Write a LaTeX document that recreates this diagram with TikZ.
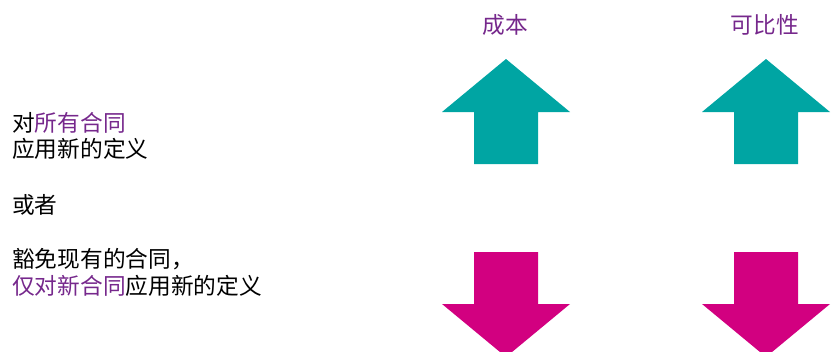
\documentclass[tikz,border=0pt]{standalone}
\usepackage{fontspec}
\setmainfont{Noto Sans CJK SC}
\definecolor{tealc}{RGB}{0,165,163}
\definecolor{magc}{RGB}{210,0,128}
\definecolor{purp}{RGB}{118,40,140}
\begin{document}
\begin{tikzpicture}[x=1pt,y=-1pt,
  txt/.style={anchor=west,inner sep=0pt,font=\fontsize{22.7}{26}\selectfont,text=black},
  lbl/.style={inner sep=0pt,font=\fontsize{22.7}{26}\selectfont,text=purp},
  uparrow/.style={fill=tealc},
  downarrow/.style={fill=magc}]
\useasboundingbox (0,0) rectangle (832,351);
\clip (0,0) rectangle (832,351);
% labels
\node[lbl] (cost) at (505,25) {成本};
\node[lbl] (comp) at (765,25) {可比性};
% left text
\node[txt] (l1) at (12,122.5) {对\textcolor{purp}{所有合同}};
\node[txt] (l2) at (12,149) {应用新的定义};
\node[txt] (l3) at (12,205) {或者};
\node[txt] (l4) at (12,259) {豁免现有的合同，};
\node[txt] (l5) at (12,286) {\textcolor{purp}{仅对新合同}应用新的定义};
% arrows
\foreach \cx in {506,766}{
  \fill[uparrow] (\cx,59) -- (\cx+64,112) -- (\cx+32,112) -- (\cx+32,164)
     -- (\cx-32,164) -- (\cx-32,112) -- (\cx-64,112) -- cycle;
  \fill[downarrow] (\cx,357) -- (\cx+64,304) -- (\cx+32,304) -- (\cx+32,252)
     -- (\cx-32,252) -- (\cx-32,304) -- (\cx-64,304) -- cycle;
}
\end{tikzpicture}
\end{document}
